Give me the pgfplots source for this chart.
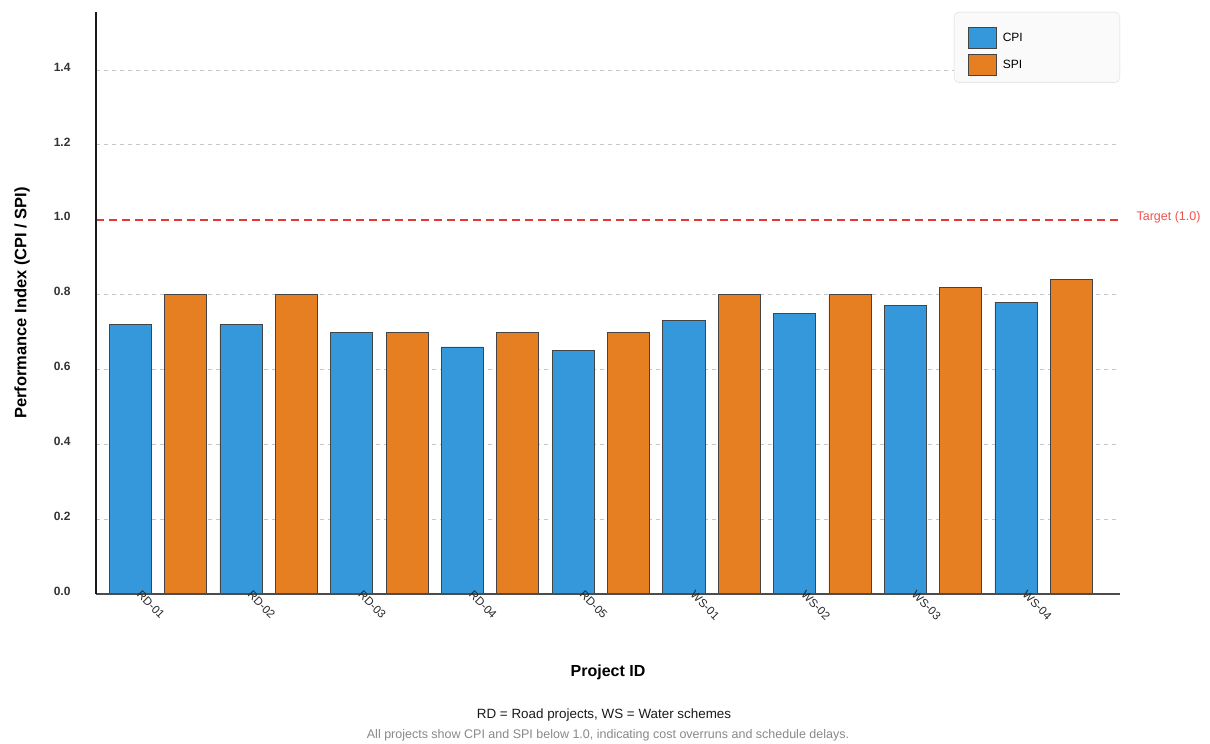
\documentclass[border=0pt]{standalone}
\usepackage{fontspec}
\setmainfont{Liberation Sans}
\usepackage{pgfplots}
\pgfplotsset{compat=1.18}
\definecolor{cpiblue}{HTML}{3498DB}
\definecolor{spiorange}{HTML}{E67E22}
\definecolor{targetred}{HTML}{E53935}
\definecolor{targettext}{HTML}{EF5350}
\definecolor{edgegray}{HTML}{444444}
\definecolor{notegray}{HTML}{888888}
\begin{document}
\begin{tikzpicture}
\path[use as bounding box] (0,0) rectangle (1210pt,744pt);
\begin{axis}[
  axis on top,
  at={(96pt,150pt)}, anchor=south west,
  scale only axis, width=1024pt, height=582pt,
  xmin=-0.56, xmax=8.69, ymin=0, ymax=1.555,
  clip=false,
  axis lines*=left,
  axis line style={-},
  x axis line style={draw=black!70, line width=1.2pt},
  y axis line style={draw=black!90, line width=1.6pt},
  major tick length=0pt,
  xtick={0,1,2,3,4,5,6,7,8},
  xticklabels={RD-01,RD-02,RD-03,RD-04,RD-05,WS-01,WS-02,WS-03,WS-04},
  xticklabel style={font=\fontsize{11.5}{13}\selectfont, text=black!85, xshift=-16pt, yshift=9pt, rotate=-45, anchor=north west},
  ytick={0,0.2,0.4,0.6,0.8,1.0,1.2,1.4},
  /pgf/number format/assume math mode=true,
  yticklabel style={/pgf/number format/.cd, fixed, fixed zerofill, precision=1, /tikz/.cd, font=\fontsize{12}{14}\selectfont\bfseries, text=black!80, xshift=-22pt, yshift=3pt},
  xlabel={Project ID},
  ylabel={Performance Index (CPI / SPI)},
  every axis x label/.style={at={(rel axis cs:0.5,0)}, yshift=-78pt, anchor=center, font=\fontsize{16}{18}\selectfont\bfseries},
  every axis y label/.style={at={(rel axis cs:0,0.5)}, xshift=-74pt, rotate=90, anchor=center, font=\fontsize{16.5}{18}\selectfont\bfseries},
  legend style={at={(1,1)}, anchor=north east, draw=black!15, fill=black!2, rounded corners=5pt,
    font=\fontsize{12}{14}\selectfont, inner xsep=14pt, inner ysep=7pt, row sep=5pt,
    nodes={text width=97pt, inner xsep=6pt}},
  legend cell align=left,
  gridline/.style={forget plot, draw=black!22, line width=0.8pt, dash pattern=on 4pt off 4pt},
]
\addplot[gridline] coordinates {(-0.56,0.2) (8.69,0.2)};
\addplot[gridline] coordinates {(-0.56,0.4) (8.69,0.4)};
\addplot[gridline] coordinates {(-0.56,0.6) (8.69,0.6)};
\addplot[gridline] coordinates {(-0.56,0.8) (8.69,0.8)};
\addplot[gridline] coordinates {(-0.56,1.2) (8.69,1.2)};
\addplot[gridline] coordinates {(-0.56,1.4) (8.69,1.4)};
\addplot[forget plot, targetred, line width=2pt, dash pattern=on 8pt off 5pt] coordinates {(-0.56,1) (8.69,1)};
\addplot[ybar, bar width=0.38, bar shift=-0.25, fill=cpiblue, draw=edgegray, line width=0.7pt,
  legend image code/.code={\path (0pt,18.5pt); \draw[sharp corners, fill=cpiblue, draw=edgegray, line width=0.7pt] (0pt,-10.5pt) rectangle (28pt,10.5pt);}]
  coordinates {(0,0.72) (1,0.72) (2,0.70) (3,0.66) (4,0.65) (5,0.73) (6,0.75) (7,0.77) (8,0.78)};
\addplot[ybar, bar width=0.38, bar shift=0.25, fill=spiorange, draw=edgegray, line width=0.7pt,
  legend image code/.code={\draw[sharp corners, fill=spiorange, draw=edgegray, line width=0.7pt] (0pt,-10.5pt) rectangle (28pt,10.5pt);}]
  coordinates {(0,0.80) (1,0.80) (2,0.70) (3,0.70) (4,0.70) (5,0.80) (6,0.80) (7,0.82) (8,0.84)};
\legend{CPI,SPI}
\node[anchor=west, text=targettext, font=\fontsize{12.5}{14}\selectfont] at (axis cs:8.69,1) [xshift=13pt, yshift=2pt] {Target (1.0)};
\end{axis}
\node[font=\fontsize{13.4}{15}\selectfont, text=black!90] at (604pt,29pt) {RD = Road projects, WS = Water schemes};
\node[font=\fontsize{12.5}{14}\selectfont, text=notegray] at (608pt,9pt) {All projects show CPI and SPI below 1.0, indicating cost overruns and schedule delays.};
\end{tikzpicture}
\end{document}
